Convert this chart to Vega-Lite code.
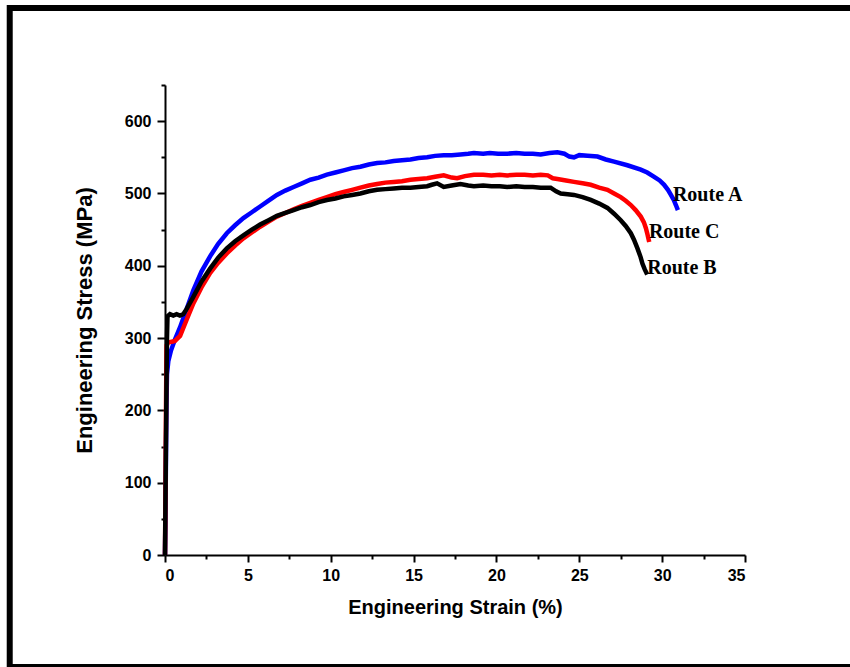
{
  "$schema": "https://vega.github.io/schema/vega-lite/v6.json",
  "autosize": {"type": "none"},
  "width": 580,
  "height": 470,
  "padding": {"left": 165, "top": 85, "right": 105, "bottom": 112},
  "background": "white",
  "config": {
    "view": {"stroke": null},
    "axis": {
      "grid": false,
      "domainColor": "black",
      "domainWidth": 2,
      "tickColor": "black",
      "tickWidth": 2,
      "labelFont": "Liberation Sans",
      "labelFontWeight": "bold",
      "labelFontSize": 16,
      "labelColor": "black",
      "titleFont": "Liberation Sans",
      "titleFontWeight": "bold",
      "titleFontSize": 20,
      "titleColor": "black"
    }
  },
  "datasets": {
    "curves": [
      {"route":"Route A","strain":0,"stress":0},{"route":"Route A","strain":0.03,"stress":60},{"route":"Route A","strain":0.06,"stress":140},{"route":"Route A","strain":0.09,"stress":210},{"route":"Route A","strain":0.12,"stress":250},{"route":"Route A","strain":0.2,"stress":268},{"route":"Route A","strain":0.35,"stress":282},{"route":"Route A","strain":0.6,"stress":298},{"route":"Route A","strain":0.91,"stress":315},{"route":"Route A","strain":1.3,"stress":340},{"route":"Route A","strain":1.71,"stress":366},{"route":"Route A","strain":2.2,"stress":392},{"route":"Route A","strain":2.72,"stress":413},{"route":"Route A","strain":3.2,"stress":430},{"route":"Route A","strain":3.73,"stress":445},{"route":"Route A","strain":4.23,"stress":456},{"route":"Route A","strain":4.73,"stress":466},{"route":"Route A","strain":5.24,"stress":474},{"route":"Route A","strain":5.74,"stress":482},{"route":"Route A","strain":6.25,"stress":490},{"route":"Route A","strain":6.75,"stress":498},{"route":"Route A","strain":7.26,"stress":504},{"route":"Route A","strain":7.76,"stress":509},{"route":"Route A","strain":8.27,"stress":514},{"route":"Route A","strain":8.77,"stress":519},{"route":"Route A","strain":9.27,"stress":522},{"route":"Route A","strain":9.77,"stress":526},{"route":"Route A","strain":10.28,"stress":529},{"route":"Route A","strain":10.78,"stress":532},{"route":"Route A","strain":11.29,"stress":535},{"route":"Route A","strain":11.79,"stress":537},{"route":"Route A","strain":12.3,"stress":540},{"route":"Route A","strain":12.8,"stress":542},{"route":"Route A","strain":13.3,"stress":543},{"route":"Route A","strain":13.8,"stress":545},{"route":"Route A","strain":14.3,"stress":546},{"route":"Route A","strain":14.81,"stress":547},{"route":"Route A","strain":15.3,"stress":549},{"route":"Route A","strain":15.82,"stress":550},{"route":"Route A","strain":16.3,"stress":552},{"route":"Route A","strain":16.82,"stress":553},{"route":"Route A","strain":17.3,"stress":553},{"route":"Route A","strain":17.83,"stress":554},{"route":"Route A","strain":18.3,"stress":555},{"route":"Route A","strain":18.64,"stress":556},{"route":"Route A","strain":19.2,"stress":555},{"route":"Route A","strain":19.6,"stress":556},{"route":"Route A","strain":20.1,"stress":555},{"route":"Route A","strain":20.65,"stress":555},{"route":"Route A","strain":21.2,"stress":556},{"route":"Route A","strain":21.7,"stress":555},{"route":"Route A","strain":22.2,"stress":555},{"route":"Route A","strain":22.67,"stress":554},{"route":"Route A","strain":23.2,"stress":556},{"route":"Route A","strain":23.68,"stress":557},{"route":"Route A","strain":24.1,"stress":555},{"route":"Route A","strain":24.4,"stress":551},{"route":"Route A","strain":24.68,"stress":550},{"route":"Route A","strain":25.0,"stress":553},{"route":"Route A","strain":25.5,"stress":552},{"route":"Route A","strain":26.1,"stress":551},{"route":"Route A","strain":26.6,"stress":547},{"route":"Route A","strain":27.1,"stress":544},{"route":"Route A","strain":27.9,"stress":539},{"route":"Route A","strain":28.71,"stress":533},{"route":"Route A","strain":29.1,"stress":529},{"route":"Route A","strain":29.52,"stress":523},{"route":"Route A","strain":29.85,"stress":518},{"route":"Route A","strain":30.12,"stress":512},{"route":"Route A","strain":30.35,"stress":505},{"route":"Route A","strain":30.53,"stress":498},{"route":"Route A","strain":30.7,"stress":491},{"route":"Route A","strain":30.83,"stress":484},{"route":"Route A","strain":30.95,"stress":477},
      {"route":"Route C","strain":0,"stress":0},{"route":"Route C","strain":0.02,"stress":60},{"route":"Route C","strain":0.04,"stress":130},{"route":"Route C","strain":0.06,"stress":200},{"route":"Route C","strain":0.08,"stress":260},{"route":"Route C","strain":0.1,"stress":290},{"route":"Route C","strain":0.2,"stress":294},{"route":"Route C","strain":0.4,"stress":295},{"route":"Route C","strain":0.6,"stress":296},{"route":"Route C","strain":0.91,"stress":303},{"route":"Route C","strain":1.3,"stress":325},{"route":"Route C","strain":1.71,"stress":348},{"route":"Route C","strain":2.2,"stress":370},{"route":"Route C","strain":2.72,"stress":390},{"route":"Route C","strain":3.2,"stress":404},{"route":"Route C","strain":3.73,"stress":417},{"route":"Route C","strain":4.23,"stress":428},{"route":"Route C","strain":4.73,"stress":438},{"route":"Route C","strain":5.24,"stress":446},{"route":"Route C","strain":5.74,"stress":454},{"route":"Route C","strain":6.25,"stress":461},{"route":"Route C","strain":6.75,"stress":468},{"route":"Route C","strain":7.26,"stress":473},{"route":"Route C","strain":7.76,"stress":478},{"route":"Route C","strain":8.27,"stress":483},{"route":"Route C","strain":8.77,"stress":487},{"route":"Route C","strain":9.27,"stress":491},{"route":"Route C","strain":9.77,"stress":495},{"route":"Route C","strain":10.28,"stress":499},{"route":"Route C","strain":10.78,"stress":502},{"route":"Route C","strain":11.29,"stress":505},{"route":"Route C","strain":11.79,"stress":508},{"route":"Route C","strain":12.3,"stress":511},{"route":"Route C","strain":12.8,"stress":513},{"route":"Route C","strain":13.3,"stress":515},{"route":"Route C","strain":13.8,"stress":516},{"route":"Route C","strain":14.3,"stress":517},{"route":"Route C","strain":14.81,"stress":519},{"route":"Route C","strain":15.3,"stress":520},{"route":"Route C","strain":15.82,"stress":521},{"route":"Route C","strain":16.3,"stress":523},{"route":"Route C","strain":16.82,"stress":525},{"route":"Route C","strain":17.3,"stress":522},{"route":"Route C","strain":17.63,"stress":521},{"route":"Route C","strain":18.1,"stress":524},{"route":"Route C","strain":18.64,"stress":526},{"route":"Route C","strain":19.2,"stress":526},{"route":"Route C","strain":19.7,"stress":525},{"route":"Route C","strain":20.2,"stress":526},{"route":"Route C","strain":20.65,"stress":525},{"route":"Route C","strain":21.2,"stress":526},{"route":"Route C","strain":21.7,"stress":526},{"route":"Route C","strain":22.2,"stress":525},{"route":"Route C","strain":22.67,"stress":526},{"route":"Route C","strain":23.1,"stress":525},{"route":"Route C","strain":23.4,"stress":521},{"route":"Route C","strain":23.68,"stress":520},{"route":"Route C","strain":24.2,"stress":518},{"route":"Route C","strain":24.68,"stress":516},{"route":"Route C","strain":25.2,"stress":514},{"route":"Route C","strain":25.69,"stress":512},{"route":"Route C","strain":26.2,"stress":508},{"route":"Route C","strain":26.7,"stress":505},{"route":"Route C","strain":27.1,"stress":500},{"route":"Route C","strain":27.5,"stress":495},{"route":"Route C","strain":27.8,"stress":490},{"route":"Route C","strain":28.11,"stress":484},{"route":"Route C","strain":28.4,"stress":477},{"route":"Route C","strain":28.71,"stress":468},{"route":"Route C","strain":28.9,"stress":460},{"route":"Route C","strain":29.02,"stress":452},{"route":"Route C","strain":29.12,"stress":443},{"route":"Route C","strain":29.22,"stress":433},
      {"route":"Route B","strain":0,"stress":0},{"route":"Route B","strain":0.03,"stress":80},{"route":"Route B","strain":0.06,"stress":160},{"route":"Route B","strain":0.09,"stress":240},{"route":"Route B","strain":0.12,"stress":300},{"route":"Route B","strain":0.15,"stress":330},{"route":"Route B","strain":0.3,"stress":333},{"route":"Route B","strain":0.5,"stress":331},{"route":"Route B","strain":0.7,"stress":333},{"route":"Route B","strain":0.9,"stress":331},{"route":"Route B","strain":1.1,"stress":333},{"route":"Route B","strain":1.3,"stress":340},{"route":"Route B","strain":1.71,"stress":357},{"route":"Route B","strain":2.2,"stress":378},{"route":"Route B","strain":2.72,"stress":396},{"route":"Route B","strain":3.2,"stress":411},{"route":"Route B","strain":3.73,"stress":424},{"route":"Route B","strain":4.23,"stress":434},{"route":"Route B","strain":4.73,"stress":442},{"route":"Route B","strain":5.24,"stress":450},{"route":"Route B","strain":5.74,"stress":457},{"route":"Route B","strain":6.25,"stress":463},{"route":"Route B","strain":6.75,"stress":469},{"route":"Route B","strain":7.26,"stress":473},{"route":"Route B","strain":7.76,"stress":477},{"route":"Route B","strain":8.27,"stress":481},{"route":"Route B","strain":8.77,"stress":484},{"route":"Route B","strain":9.27,"stress":488},{"route":"Route B","strain":9.77,"stress":491},{"route":"Route B","strain":10.28,"stress":493},{"route":"Route B","strain":10.78,"stress":496},{"route":"Route B","strain":11.29,"stress":498},{"route":"Route B","strain":11.79,"stress":500},{"route":"Route B","strain":12.3,"stress":503},{"route":"Route B","strain":12.8,"stress":505},{"route":"Route B","strain":13.3,"stress":506},{"route":"Route B","strain":13.8,"stress":507},{"route":"Route B","strain":14.3,"stress":508},{"route":"Route B","strain":14.81,"stress":508},{"route":"Route B","strain":15.3,"stress":509},{"route":"Route B","strain":15.82,"stress":510},{"route":"Route B","strain":16.1,"stress":512},{"route":"Route B","strain":16.42,"stress":514},{"route":"Route B","strain":16.82,"stress":509},{"route":"Route B","strain":17.3,"stress":511},{"route":"Route B","strain":17.83,"stress":513},{"route":"Route B","strain":18.3,"stress":511},{"route":"Route B","strain":18.64,"stress":510},{"route":"Route B","strain":19.2,"stress":511},{"route":"Route B","strain":19.7,"stress":510},{"route":"Route B","strain":20.2,"stress":510},{"route":"Route B","strain":20.65,"stress":509},{"route":"Route B","strain":21.2,"stress":510},{"route":"Route B","strain":21.7,"stress":509},{"route":"Route B","strain":22.2,"stress":509},{"route":"Route B","strain":22.67,"stress":508},{"route":"Route B","strain":23.27,"stress":508},{"route":"Route B","strain":23.6,"stress":503},{"route":"Route B","strain":23.88,"stress":500},{"route":"Route B","strain":24.3,"stress":499},{"route":"Route B","strain":24.68,"stress":498},{"route":"Route B","strain":25.2,"stress":495},{"route":"Route B","strain":25.69,"stress":491},{"route":"Route B","strain":26.2,"stress":486},{"route":"Route B","strain":26.7,"stress":480},{"route":"Route B","strain":27.1,"stress":472},{"route":"Route B","strain":27.5,"stress":463},{"route":"Route B","strain":27.8,"stress":455},{"route":"Route B","strain":28.11,"stress":445},{"route":"Route B","strain":28.3,"stress":436},{"route":"Route B","strain":28.51,"stress":424},{"route":"Route B","strain":28.7,"stress":412},{"route":"Route B","strain":28.81,"stress":403},{"route":"Route B","strain":28.95,"stress":395},{"route":"Route B","strain":29.1,"stress":388}
    ],
    "labels": [
      {"label":"Route A","strain":30.65,"stress":498},
      {"label":"Route C","strain":29.2,"stress":447},
      {"label":"Route B","strain":29.1,"stress":397}
    ]
  },
  "resolve": {"axis": {"x": "independent", "y": "independent"}},
  "layer": [
    {
      "data": {"values": [{}]},
      "mark": {"type": "rect", "fill": null, "fillOpacity": 0, "stroke": "black", "strokeWidth": 6, "clip": false},
      "encoding": {
        "x": {"datum": -9.37, "type": "quantitative", "scale": {"domain": [0, 35], "nice": false, "zero": false},
              "axis": {"orient": "bottom", "values": [2.5, 7.5, 12.5, 17.5, 22.5, 27.5, 32.5], "labels": false, "domain": false, "tickSize": 4, "title": null}},
        "x2": {"datum": 41.9},
        "y": {"datum": 756.5, "type": "quantitative", "scale": {"domain": [0, 650], "nice": false, "zero": false},
              "axis": {"orient": "left", "values": [50, 150, 250, 350, 450, 550, 650], "labels": false, "domain": false, "tickSize": 4, "title": null}},
        "y2": {"datum": -154.9}
      }
    },
    {
      "data": {"name": "curves"},
      "mark": {"type": "line", "strokeWidth": 4.5, "clip": false},
      "encoding": {
        "x": {"field": "strain", "type": "quantitative",
              "axis": {"orient": "bottom", "values": [0, 5, 10, 15, 20, 25, 30, 35], "tickSize": 7, "labelPadding": 5, "title": "Engineering Strain (%)", "titlePadding": 14, "titleFontSize": 20}},
        "y": {"field": "stress", "type": "quantitative",
              "axis": {"orient": "left", "values": [0, 100, 200, 300, 400, 500, 600], "tickSize": 8, "labelPadding": 6, "title": "Engineering Stress (MPa)", "titlePadding": 28, "titleFontSize": 22}},
        "color": {"field": "route", "type": "nominal", "scale": {"domain": ["Route A", "Route B", "Route C"], "range": ["#0000FF", "#000000", "#FF0000"]}, "legend": null},
        "order": {"field": "strain", "type": "quantitative"}
      }
    },
    {
      "data": {"name": "labels"},
      "mark": {"type": "text", "align": "left", "baseline": "middle", "font": "Liberation Serif", "fontWeight": "bold", "fontSize": 20, "color": "black"},
      "encoding": {
        "x": {"field": "strain", "type": "quantitative", "axis": null},
        "y": {"field": "stress", "type": "quantitative", "axis": null},
        "text": {"field": "label"}
      }
    }
  ]
}
